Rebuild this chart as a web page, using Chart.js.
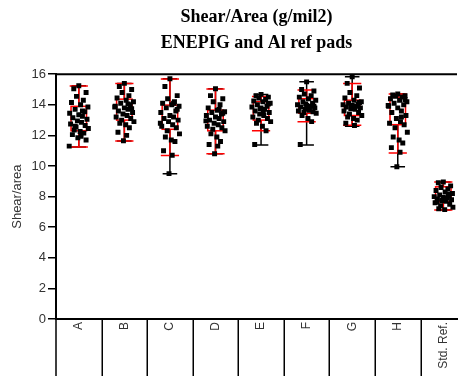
<!DOCTYPE html>
<html>
<head>
<meta charset="utf-8">
<script src="https://cdn.jsdelivr.net/npm/chart.js@4/dist/chart.umd.min.js"></script>
<style>
  body { margin: 0; background: #fff; }
</style>
</head>
<body>
<canvas id="shearChart" width="461" height="376"></canvas>
<script>
// categories along the x axis
const categories = ['A', 'B', 'C', 'D', 'E', 'F', 'G', 'H', 'Std. Ref.'];

// individual shear/area readings per category
const valuesA = [15.25, 15.05, 14.8, 14.55, 14.3, 14.15, 14.0, 13.85, 13.7, 13.55, 13.45, 13.35, 13.25, 13.15, 13.05, 12.95, 12.85, 12.75, 12.65, 12.55, 12.45, 12.35, 12.25, 12.15, 12.05, 11.95, 11.85, 11.7, 11.3, 13.6, 12.6];
const valuesB = [15.4, 15.2, 15.0, 14.8, 14.6, 14.45, 14.3, 14.2, 14.1, 14.0, 13.9, 13.8, 13.7, 13.6, 13.5, 13.4, 13.3, 13.2, 13.1, 13.0, 12.9, 12.8, 12.7, 12.5, 12.2, 12.0, 11.65, 13.75, 13.85, 14.05];
const valuesC = [15.7, 15.2, 14.6, 14.4, 14.2, 14.1, 14.0, 13.9, 13.8, 13.6, 13.5, 13.3, 13.2, 13.1, 13.0, 12.9, 12.7, 12.6, 12.5, 12.3, 12.1, 11.9, 11.7, 11.6, 11.0, 10.7, 9.5, 13.7, 12.8, 14.1];
const valuesD = [15.05, 14.6, 14.4, 14.2, 14.0, 13.8, 13.65, 13.55, 13.5, 13.4, 13.3, 13.2, 13.1, 13.0, 12.9, 12.8, 12.7, 12.6, 12.5, 12.4, 12.3, 12.1, 11.9, 11.6, 11.4, 11.3, 10.8, 13.45, 12.95, 13.7];
const valuesE = [14.68, 14.6, 14.5, 14.45, 14.35, 14.25, 14.2, 14.1, 14.0, 13.9, 13.85, 13.8, 13.7, 13.6, 13.5, 13.4, 13.3, 13.2, 13.1, 13.0, 12.9, 12.8, 12.6, 12.3, 11.4, 13.55, 13.75, 14.05];
const valuesF = [15.5, 15.0, 14.9, 14.7, 14.6, 14.5, 14.4, 14.3, 14.2, 14.1, 14.0, 13.95, 13.9, 13.85, 13.8, 13.7, 13.65, 13.6, 13.55, 13.5, 13.45, 13.3, 13.1, 12.9, 11.4, 13.75, 14.05, 13.9];
const valuesG = [15.83, 15.4, 15.1, 14.8, 14.6, 14.45, 14.3, 14.2, 14.1, 14.05, 14.0, 13.95, 13.9, 13.85, 13.8, 13.75, 13.7, 13.6, 13.5, 13.4, 13.3, 13.2, 13.1, 13.0, 12.8, 12.65, 13.9, 14.15];
const valuesH = [14.7, 14.65, 14.6, 14.55, 14.5, 14.4, 14.3, 14.2, 14.1, 14.0, 13.9, 13.8, 13.6, 13.5, 13.3, 13.1, 12.9, 12.8, 12.7, 12.5, 12.2, 11.9, 11.7, 11.5, 11.2, 10.9, 9.95, 14.35, 13.95, 13.2];
const valuesRef = [8.95, 8.9, 8.7, 8.6, 8.5, 8.4, 8.3, 8.2, 8.1, 8.05, 8.0, 7.95, 7.9, 7.85, 7.8, 7.75, 7.7, 7.6, 7.5, 7.4, 7.3, 7.2, 7.15, 8.15, 7.65];
const allValues = [valuesA, valuesB, valuesC, valuesD, valuesE, valuesF, valuesG, valuesH, valuesRef];

// horizontal spread of the dots inside a category (category units)
const jitter = [0.0, -0.11, 0.16, -0.05, 0.1, -0.16, 0.04, 0.2, -0.08, 0.13, -0.2, 0.0, 0.08, -0.13, 0.18, -0.03, 0.06, -0.18, 0.14, -0.06, 0.21, -0.1, 0.03, 0.11, -0.14, 0.05, -0.02, 0.16, -0.21, 0.08, -0.08];

// box summary per category
const minVals = [11.25, 11.63, 9.5, 10.8, 11.37, 11.37, 12.6, 9.95, 7.12];
const p10Vals = [11.25, 11.63, 10.68, 10.8, 12.3, 12.9, 12.67, 10.85, 7.12];
const q1Vals = [12.3, 13.0, 12.4, 12.3, 13.0, 13.45, 13.3, 12.7, 7.66];
const q3Vals = [13.9, 14.37, 13.98, 13.65, 14.2, 14.4, 14.3, 14.5, 8.64];
const p90Vals = [15.23, 15.4, 15.69, 15.03, 14.55, 14.96, 15.4, 14.7, 8.95];
const maxVals = [15.25, 15.4, 15.7, 15.05, 14.68, 15.5, 15.83, 14.7, 8.95];

// y axis ticks
const yTicks = [0, 2, 4, 6, 8, 10, 12, 14, 16];

const points = [];
allValues.forEach(function (vals, i) {
    vals.forEach(function (v, j) {
        points.push({ x: i + jitter[j % jitter.length], y: v });
    });
});

// boxes, whiskers and caps drawn under the dots
const boxPlugin = {
    id: 'boxes',
    beforeDatasetsDraw: function (chart) {
        const ctx = chart.ctx;
        const xs = chart.scales.x;
        const ys = chart.scales.y;
        ctx.save();
        ctx.lineWidth = 1.5;
        for (let i = 0; i < categories.length; i++) {
            const cx = xs.getPixelForValue(i);
            // black min/max range
            ctx.strokeStyle = '#000';
            ctx.beginPath();
            ctx.moveTo(cx, ys.getPixelForValue(minVals[i]));
            ctx.lineTo(cx, ys.getPixelForValue(maxVals[i]));
            [minVals[i], maxVals[i]].forEach(function (v) {
                const py = ys.getPixelForValue(v);
                ctx.moveTo(xs.getPixelForValue(i - 0.16), py);
                ctx.lineTo(xs.getPixelForValue(i + 0.16), py);
            });
            ctx.stroke();
            // red percentile whiskers and box
            ctx.strokeStyle = '#ff0000';
            ctx.beginPath();
            ctx.moveTo(cx, ys.getPixelForValue(p10Vals[i]));
            ctx.lineTo(cx, ys.getPixelForValue(p90Vals[i]));
            [p10Vals[i], p90Vals[i]].forEach(function (v) {
                const py = ys.getPixelForValue(v);
                ctx.moveTo(xs.getPixelForValue(i - 0.2), py);
                ctx.lineTo(xs.getPixelForValue(i + 0.2), py);
            });
            ctx.stroke();
            const bx1 = xs.getPixelForValue(i - 0.17);
            const bx2 = xs.getPixelForValue(i + 0.17);
            const by1 = ys.getPixelForValue(q3Vals[i]);
            const by2 = ys.getPixelForValue(q1Vals[i]);
            ctx.fillStyle = '#fff';
            ctx.fillRect(bx1, by1, bx2 - bx1, by2 - by1);
            ctx.strokeRect(bx1, by1, bx2 - bx1, by2 - by1);
        }
        ctx.restore();
    },
    afterDraw: function (chart) {
        const ctx = chart.ctx;
        const xs = chart.scales.x;
        const area = chart.chartArea;
        ctx.save();
        ctx.strokeStyle = '#000';
        // top frame line
        ctx.lineWidth = 2;
        ctx.beginPath();
        ctx.moveTo(area.left, area.top);
        ctx.lineTo(area.right, area.top);
        ctx.stroke();
        // table lines between category labels
        ctx.lineWidth = 1.5;
        ctx.beginPath();
        for (let i = 0; i <= categories.length; i++) {
            const v = i - 0.5;
            if (v > xs.max) break;
            const px = Math.round(xs.getPixelForValue(v)) + (i === 0 ? 0 : 0.25);
            ctx.moveTo(px, area.bottom);
            ctx.lineTo(px, chart.height);
        }
        ctx.stroke();
        ctx.restore();
    }
};

const ctx = document.getElementById('shearChart').getContext('2d');
new Chart(ctx, {
    type: 'scatter',
    data: {
        datasets: [{
            label: 'Shear/area',
            data: points,
            backgroundColor: '#000',
            borderColor: '#000',
            borderWidth: 0,
            pointStyle: 'rect',
            pointRadius: 3.5
        }]
    },
    options: {
        responsive: false,
        animation: false,
        layout: { padding: { left: 0, right: 0, top: 0, bottom: 0 } },
        plugins: {
            legend: { display: false },
            tooltip: { enabled: false },
            title: {
                display: true,
                fullSize: false,
                text: ['Shear/Area (g/mil2)', 'ENEPIG and Al ref pads'],
                color: '#000',
                font: { family: "'Liberation Serif', 'Times New Roman', serif", size: 18, weight: 'bold', lineHeight: 1.45 },
                padding: { top: 4, bottom: 18 }
            }
        },
        scales: {
            x: {
                type: 'linear',
                min: -0.5,
                max: 8.3,
                afterBuildTicks: function (scale) {
                    scale.ticks = categories.map((c, i) => ({ value: i }));
                },
                afterFit: function (scale) {
                    scale.height = 57;
                },
                ticks: {
                    autoSkip: false,
                    minRotation: 90,
                    maxRotation: 90,
                    padding: 3,
                    color: '#333',
                    font: { family: "'Liberation Sans', Arial, sans-serif", size: 12 },
                    callback: function (value) {
                        return categories[value];
                    }
                },
                grid: { display: false, drawTicks: false },
                border: { display: true, color: '#000', width: 2 }
            },
            y: {
                min: 0,
                max: 16,
                afterBuildTicks: function (scale) {
                    scale.ticks = yTicks.map(v => ({ value: v }));
                },
                afterFit: function (scale) {
                    scale.width = 56;
                },
                ticks: {
                    color: '#333',
                    padding: 2,
                    font: { family: "'Liberation Sans', Arial, sans-serif", size: 13 }
                },
                grid: {
                    drawOnChartArea: false,
                    drawTicks: true,
                    tickLength: 8,
                    color: '#000',
                    lineWidth: 1.5
                },
                border: { display: true, color: '#000', width: 2 },
                title: {
                    display: true,
                    text: 'Shear/area',
                    color: '#333',
                    font: { family: "'Liberation Sans', Arial, sans-serif", size: 13 },
                    padding: { top: 10, bottom: 0 }
                }
            }
        }
    },
    plugins: [boxPlugin]
});
</script>
</body>
</html>
